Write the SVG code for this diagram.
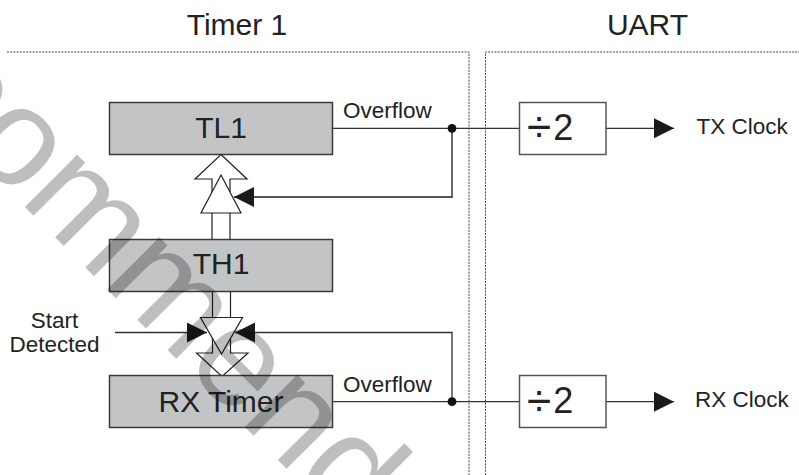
<svg xmlns="http://www.w3.org/2000/svg" width="799" height="475" viewBox="0 0 799 475">
<defs>
<style>
.t{font-family:"Liberation Sans",Arial,sans-serif;fill:#222}
.title{font-size:30px;text-anchor:middle}
.reg{font-size:30px;text-anchor:middle}
.lbl{font-size:22.5px}
.box{fill:#c3c4c6;stroke:#3a3a3a;stroke-width:1.5}
.dv{fill:#fff;stroke:#555;stroke-width:1.5}
.ln{fill:none;stroke:#333;stroke-width:1.3}
.fb{fill:none;stroke:#555;stroke-width:1.8}
.hol{fill:#fff;stroke:#222;stroke-width:1.2;stroke-linejoin:miter}
.dot{fill:none;stroke:#444;stroke-width:1;stroke-dasharray:2 1.2}
.wm{font-family:"Liberation Sans",Arial,sans-serif;font-size:140px;fill:#000;opacity:0.25}
</style>
<marker id="ah" markerUnits="userSpaceOnUse" markerWidth="21" markerHeight="21" refX="20" refY="10" orient="auto" viewBox="0 0 21 21">
<path d="M0,0 L20,10 L0,20 z" fill="#1a1a1a"/>
</marker>
</defs>

<g id="regions">
<path class="dot" d="M7,52 H469 V475"/>
<path class="dot" d="M485.5,475 V52 H799"/>
<text class="t title" x="237" y="35">Timer 1</text>
<text class="t title" x="647.5" y="35">UART</text>
</g>

<g id="connectors">
<path class="ln" d="M332,128.3 H519.5"/>
<path class="ln" d="M332,401.7 H519.5"/>
<path class="fb" d="M452,128.3 V197 H234" marker-end="url(#ah)"/>
<path class="ln" d="M452,401.7 V332.5 H235" marker-end="url(#ah)"/>
<path class="ln" d="M115,332.5 H207" marker-end="url(#ah)"/>
<path class="ln" d="M606,128.3 H674" marker-end="url(#ah)"/>
<path class="ln" d="M606,401.7 H674" marker-end="url(#ah)"/>
<circle cx="452" cy="128.3" r="4.4" fill="#111"/>
<circle cx="452" cy="401.7" r="4.4" fill="#111"/>
</g>

<g id="arrow-up">
<polygon class="hol" points="221,154.5 247,179 230,179 230,239.5 212,239.5 212,179 195,179"/>
<polygon class="hol" points="221,175 241,213 201,213"/>
</g>

<g id="arrow-down">
<polygon class="hol" points="212.5,291 230.5,291 230.5,353 248,353 222,376.5 196.5,353 212.5,353"/>
<polygon class="hol" points="200.5,317.5 242.5,317.5 221.5,354"/>
</g>

<g id="tl1">
<rect class="box" x="109.5" y="102.5" width="223" height="52"/>
<text class="t reg" x="221" y="137.5">TL1</text>
</g>
<g id="th1">
<rect class="box" x="109.5" y="239.5" width="223" height="52"/>
<text class="t reg" x="221" y="274">TH1</text>
</g>
<g id="rxtimer">
<rect class="box" x="109.5" y="375.5" width="223" height="52"/>
<text class="t reg" x="221" y="411.5">RX Timer</text>
</g>

<g id="div-tx">
<rect class="dv" x="519.5" y="102.5" width="86.5" height="52"/>
<text class="t" x="527" y="142" font-size="44">÷<tspan font-size="36" dx="2" y="139.5">2</tspan></text>
</g>
<g id="div-rx">
<rect class="dv" x="519.5" y="375.5" width="86.5" height="52"/>
<text class="t" x="527" y="415.5" font-size="44">÷<tspan font-size="36" dx="2" y="413">2</tspan></text>
</g>

<g id="labels">
<text class="t lbl" x="343" y="118">Overflow</text>
<text class="t lbl" x="343" y="391.5">Overflow</text>
<text class="t lbl" x="696.5" y="133.5">TX Clock</text>
<text class="t lbl" x="695" y="407">RX Clock</text>
<text class="t lbl" x="54.5" y="328" text-anchor="middle">Start</text>
<text class="t lbl" x="54.5" y="351.5" text-anchor="middle">Detected</text>
</g>

<g id="watermark">
<text class="wm" transform="translate(-213.2 -30.8) rotate(45)" x="0" y="0">Recommended</text>
</g>
</svg>
